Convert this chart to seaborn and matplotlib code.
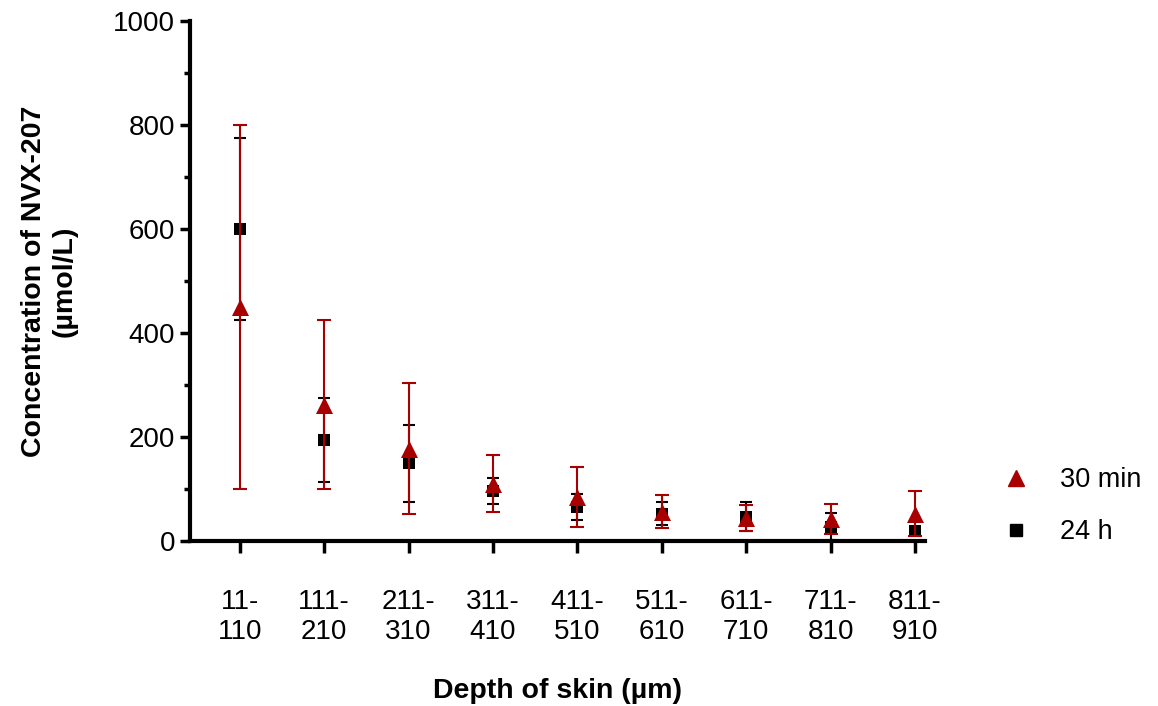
import numpy as np
import pandas as pd
import seaborn as sns
import matplotlib.pyplot as plt
from matplotlib.lines import Line2D

# depth bins (µm)
depth_labels = ["11-\n110", "111-\n210", "211-\n310", "311-\n410", "411-\n510",
                "511-\n610", "611-\n710", "711-\n810", "811-\n910"]

# 30 min: mean and SD
mean_30min = [450, 262, 177, 110, 84, 56, 44, 42, 52]
sd_30min = [350, 163, 126, 55, 58, 32, 25, 28, 43]

# 24 h: mean and SD
mean_24h = [600, 194, 149, 96, 65, 52, 46, 27, 18]
sd_24h = [176, 81, 74, 25, 25, 22, 28, 26, 8]

red = "#A80000"
black = "#000000"

sns.set_style("ticks", {"axes.edgecolor": "black", "xtick.color": "black",
                        "ytick.color": "black", "text.color": "black",
                        "axes.labelcolor": "black"})
plt.rcParams['font.family'] = ['Liberation Sans', 'DejaVu Sans']

df = pd.DataFrame({
    "depth": depth_labels * 2,
    "conc": mean_24h + mean_30min,
    "time": ["24 h"] * 9 + ["30 min"] * 9,
})

fig = plt.figure(figsize=(11.58, 7.06), dpi=100)
ax = fig.add_axes([0.164, 0.234, 0.635, 0.736])

x = np.arange(len(depth_labels))

# 24 h first, 30 min drawn on top
ax.errorbar(x, mean_24h, yerr=sd_24h, fmt="none", ecolor=black,
            elinewidth=1.5, capsize=4, capthick=1.5, zorder=2)
sns.scatterplot(data=df[df.time == "24 h"], x="depth", y="conc", marker="s",
                color=black, s=64, edgecolor=black, linewidth=0, ax=ax, zorder=3)
ax.errorbar(x, mean_30min, yerr=sd_30min, fmt="none", ecolor=red,
            elinewidth=1.5, capsize=5, capthick=1.5, zorder=4)
sns.scatterplot(data=df[df.time == "30 min"], x="depth", y="conc", marker="^",
                color=red, s=150, edgecolor=red, linewidth=0, ax=ax, zorder=5)

ax.set_ylim(0, 1000)
ax.set_xlim(-0.59, 8.12)
ax.set_yticks(np.arange(0, 1001, 200))
ax.set_yticks(np.arange(100, 1000, 200), minor=True)
ax.tick_params(axis="y", which="major", length=7.5, width=2.5, labelsize=20, pad=3,
               colors="black")
ax.tick_params(axis="y", which="minor", length=4, width=2.5, colors="black")
ax.tick_params(axis="x", length=8.5, width=2.5, labelsize=20, pad=26, colors="black")
ax.set_xticks(x)
ax.set_xticklabels(depth_labels)

for side in ["left", "bottom"]:
    ax.spines[side].set_linewidth(3)
    ax.spines[side].set_color("black")
sns.despine(ax=ax)

ax.set_xlabel("Depth of skin (µm)", fontsize=20.5, fontweight="bold", color="black")
ax.xaxis.set_label_coords(0.5, -0.264)
ax.set_ylabel("Concentration of NVX-207\n(µmol/L)", fontsize=20.5, fontweight="bold",
              color="black")
ax.yaxis.set_label_coords(-0.153, 0.5)

handles = [
    Line2D([], [], marker="^", color=red, linestyle="none", markersize=12),
    Line2D([], [], marker="s", color=black, linestyle="none", markersize=8),
]
if ax.get_legend() is not None:
    ax.get_legend().remove()
fig.legend(handles, ["30 min", "24 h"], loc="center left",
           bbox_to_anchor=(0.845, 0.283), frameon=False, fontsize=19.5,
           handletextpad=1.1, labelspacing=0.95, handlelength=1.0)

fig.savefig("out.png", dpi=100)
